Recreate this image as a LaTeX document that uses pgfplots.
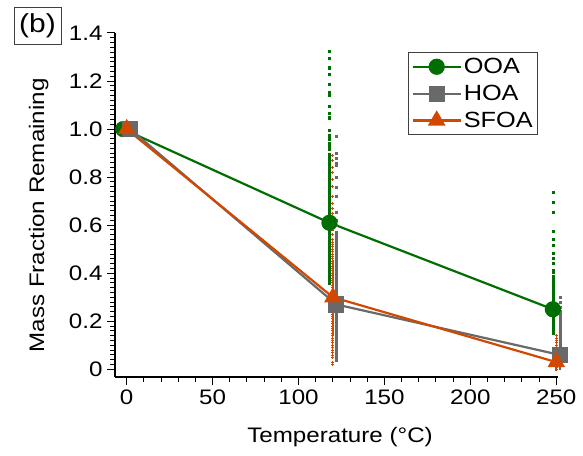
\documentclass[border=0pt]{standalone}
\usepackage{fontspec}
\setmainfont{Liberation Sans}[FakeStretch=1.15]
\usepackage{pgfplots}
\pgfplotsset{compat=1.18}
\definecolor{ooa}{RGB}{0,110,0}
\definecolor{hoa}{RGB}{105,105,105}
\definecolor{sfoa}{RGB}{210,72,0}
\newcommand\T[1]{\mbox{\normalfont\fontsize{21}{23}\selectfont #1}}
\begin{document}
\begin{tikzpicture}[x=1pt,y=1pt]
\useasboundingbox (0,0) rectangle (583,455);
\begin{axis}[
  at={(115pt,78pt)}, anchor=south west,
  scale only axis, width=443pt, height=344pt,
  xmin=-6.8, xmax=251, ymin=-0.032, ymax=1.4,
  axis x line*=bottom, axis y line*=left,
  axis line style={line width=1.3pt, -},
  tick align=outside,
  xtick={0,50,100,150,200,250}, minor x tick num=4,
  xticklabels={\T{0},\T{50},\T{100},\T{150},\T{200},\T{250}},
  ytick={0,0.2,0.4,0.6,0.8,1.0,1.2,1.4}, minor y tick num=9,
  yticklabels={\T{0},\T{0.2},\T{0.4},\T{0.6},\T{0.8},\T{1.0},\T{1.2},\T{1.4}},
  major tick length=8pt, minor tick length=5pt,
  every tick/.style={line width=1pt, black},
  tick label style={font=\fontsize{21}{23}\selectfont},
  xticklabel style={yshift=-1pt},
  yticklabel style={xshift=-1pt},
  xlabel={Temperature (°C)}, ylabel={Mass Fraction Remaining},
  label style={font=\fontsize{21}{23}\selectfont},
  xlabel style={at={(axis description cs:0.508,-0.174)}, anchor=center},
  ylabel style={at={(axis description cs:-0.172,0.47)}, anchor=center},
  clip=false,
  legend style={at={(0.955,0.945)}, anchor=north east, draw=black!75, line width=0.8pt,
    font=\fontsize{22}{24}\selectfont, inner xsep=3pt, inner ysep=4pt, row sep=6pt,
    nodes={inner sep=2pt}},
  legend cell align=left,
  legend image code/.code={\draw[mark repeat=2,mark phase=2] plot coordinates {(0pt,0pt) (24pt,0pt) (48pt,0pt)};},
]
% scatter distributions
\addplot[forget plot, only marks, mark=square*, mark size=1pt, color=ooa] coordinates {
(118,1.325)(118,1.297)(118,1.257)(118,1.253)(118,1.229)(118,1.188)(118,1.155)(118,1.139)(118,1.097)(118,1.065)(118,1.049)(118,1.045)(118,0.997)(118,0.975)(118,0.965)(118,0.958)(118,0.942)(118,0.93)(118,0.917)(118,0.896)(118,0.884)(118,0.87)(118,0.86)(118,0.85)(118,0.84)(118,0.83)(118,0.82)(118,0.81)(118,0.80)(118,0.79)(118,0.78)(118,0.77)(118,0.76)(118,0.75)(118,0.74)(118,0.73)(118,0.72)(118,0.71)(118,0.70)(118,0.69)(118,0.68)(118,0.67)(118,0.66)(118,0.65)(118,0.64)(118,0.63)(118,0.62)(118,0.60)(118,0.58)(118,0.57)(118,0.56)(118,0.55)(118,0.54)(118,0.53)(118,0.52)(118,0.51)(118,0.50)(118,0.49)(118,0.48)(118,0.47)(118,0.46)(118,0.45)(118,0.44)(118,0.43)(118,0.42)(118,0.41)(118,0.40)(118,0.39)(118,0.38)(118,0.37)(118,0.36)
(248,0.736)(248,0.697)(248,0.655)(248,0.576)(248,0.542)(248,0.517)(248,0.483)(248,0.461)(248,0.442)(248,0.414)(248,0.403)(248,0.389)(248,0.375)(248,0.364)(248,0.35)(248,0.34)(248,0.33)(248,0.32)(248,0.31)(248,0.30)(248,0.29)(248,0.28)(248,0.27)(248,0.26)(248,0.24)(248,0.23)(248,0.22)(248,0.21)(248,0.20)(248,0.19)(248,0.18)(248,0.17)(248,0.16)(248,0.15)
};
\addplot[forget plot, only marks, mark=square*, mark size=1pt, color=hoa] coordinates {
(122,0.97)(122,0.90)(122,0.88)(122,0.86)(122,0.85)(122,0.80)(122,0.76)(122,0.72)(122,0.655)(122,0.62)(122,0.60)(122,0.57)(122,0.56)(122,0.55)(122,0.54)(122,0.53)(122,0.52)(122,0.51)(122,0.50)(122,0.49)(122,0.48)(122,0.47)(122,0.46)(122,0.45)(122,0.44)(122,0.43)(122,0.42)(122,0.41)(122,0.40)(122,0.39)(122,0.38)(122,0.37)(122,0.36)(122,0.35)(122,0.34)(122,0.33)(122,0.32)(122,0.31)(122,0.30)(122,0.24)(122,0.23)(122,0.22)(122,0.21)(122,0.20)(122,0.19)(122,0.18)(122,0.17)(122,0.16)(122,0.15)(122,0.14)(122,0.13)(122,0.12)(122,0.11)(122,0.10)(122,0.09)(122,0.08)(122,0.07)(122,0.06)(122,0.05)(122,0.04)
(252,0.30)(252,0.28)(252,0.26)(252,0.24)(252,0.23)(252,0.22)(252,0.21)(252,0.20)(252,0.19)(252,0.18)(252,0.17)(252,0.16)(252,0.15)(252,0.14)(252,0.13)(252,0.12)(252,0.11)(252,0.10)(252,0.09)(252,0.08)(252,0.07)
};
\addplot[forget plot, only marks, mark=+, mark size=1.5pt, line width=0.8pt, color=sfoa] coordinates {
(120,0.89)(120,0.87)(120,0.84)(120,0.82)(120,0.79)(120,0.76)(120,0.72)(120,0.69)(120,0.67)(120,0.65)(120,0.63)(120,0.60)(120,0.58)(120,0.56)(120,0.54)(120,0.53)(120,0.52)(120,0.51)(120,0.50)(120,0.49)(120,0.48)(120,0.47)(120,0.46)(120,0.45)(120,0.44)(120,0.43)(120,0.42)(120,0.41)(120,0.40)(120,0.39)(120,0.38)(120,0.37)(120,0.36)(120,0.35)(120,0.34)(120,0.33)(120,0.32)(120,0.31)(120,0.29)(120,0.28)(120,0.27)(120,0.26)(120,0.25)(120,0.24)(120,0.23)(120,0.22)(120,0.21)(120,0.20)(120,0.19)(120,0.18)(120,0.17)(120,0.16)(120,0.15)(120,0.14)(120,0.13)(120,0.12)(120,0.11)(120,0.10)(120,0.09)(120,0.08)(120,0.07)(120,0.06)(120,0.05)(120,0.03)(120,0.02)
(250,0.14)(250,0.13)(250,0.12)(250,0.11)(250,0.10)(250,0.09)(250,0.08)(250,0.07)(250,0.06)(250,0.05)(250,0.04)(250,0.02)(250,0.01)(250,0.0)
};
% main series
\addplot[color=ooa, line width=2.2pt, mark=*, mark size=7pt, mark options={solid},
  error bars/.cd, y dir=both, y explicit,
  error bar style={line width=2pt, color=ooa},
  error mark options={mark size=4pt, line width=2pt, color=ooa}]
  coordinates {(-2,1.0) +- (0,0) (118,0.61) +- (0,0.165) (248,0.25) +- (0,0.09)};
\addlegendentry{OOA}
\addplot[color=hoa, line width=2.2pt, mark=square*, mark size=7pt, mark options={solid},
  error bars/.cd, y dir=both, y explicit,
  error bar style={line width=2pt, color=hoa},
  error mark options={mark size=4pt, line width=2pt, color=hoa}]
  coordinates {(2,1.0) +- (0,0) (122,0.27) +- (0,0.135) (252,0.06) +- (0,0.045)};
\addlegendentry{HOA}
\addplot[color=sfoa, line width=2.2pt, mark=triangle*, mark size=8pt, mark options={solid},
  error bars/.cd, y dir=both, y explicit,
  error bar style={line width=2pt, color=sfoa},
  error mark options={mark size=4pt, line width=2pt, color=sfoa}]
  coordinates {(0,1.0) +- (0,0) (120,0.30) +- (0,0.14) (250,0.03) +- (0,0.02)};
\addlegendentry{SFOA}
\end{axis}
\node[draw=black!75, line width=0.8pt, inner sep=1pt, minimum width=47pt, minimum height=37pt,
  font=\fontsize{26}{28}\selectfont] at (37.5,429.5) {(b)};
\end{tikzpicture}
\end{document}
